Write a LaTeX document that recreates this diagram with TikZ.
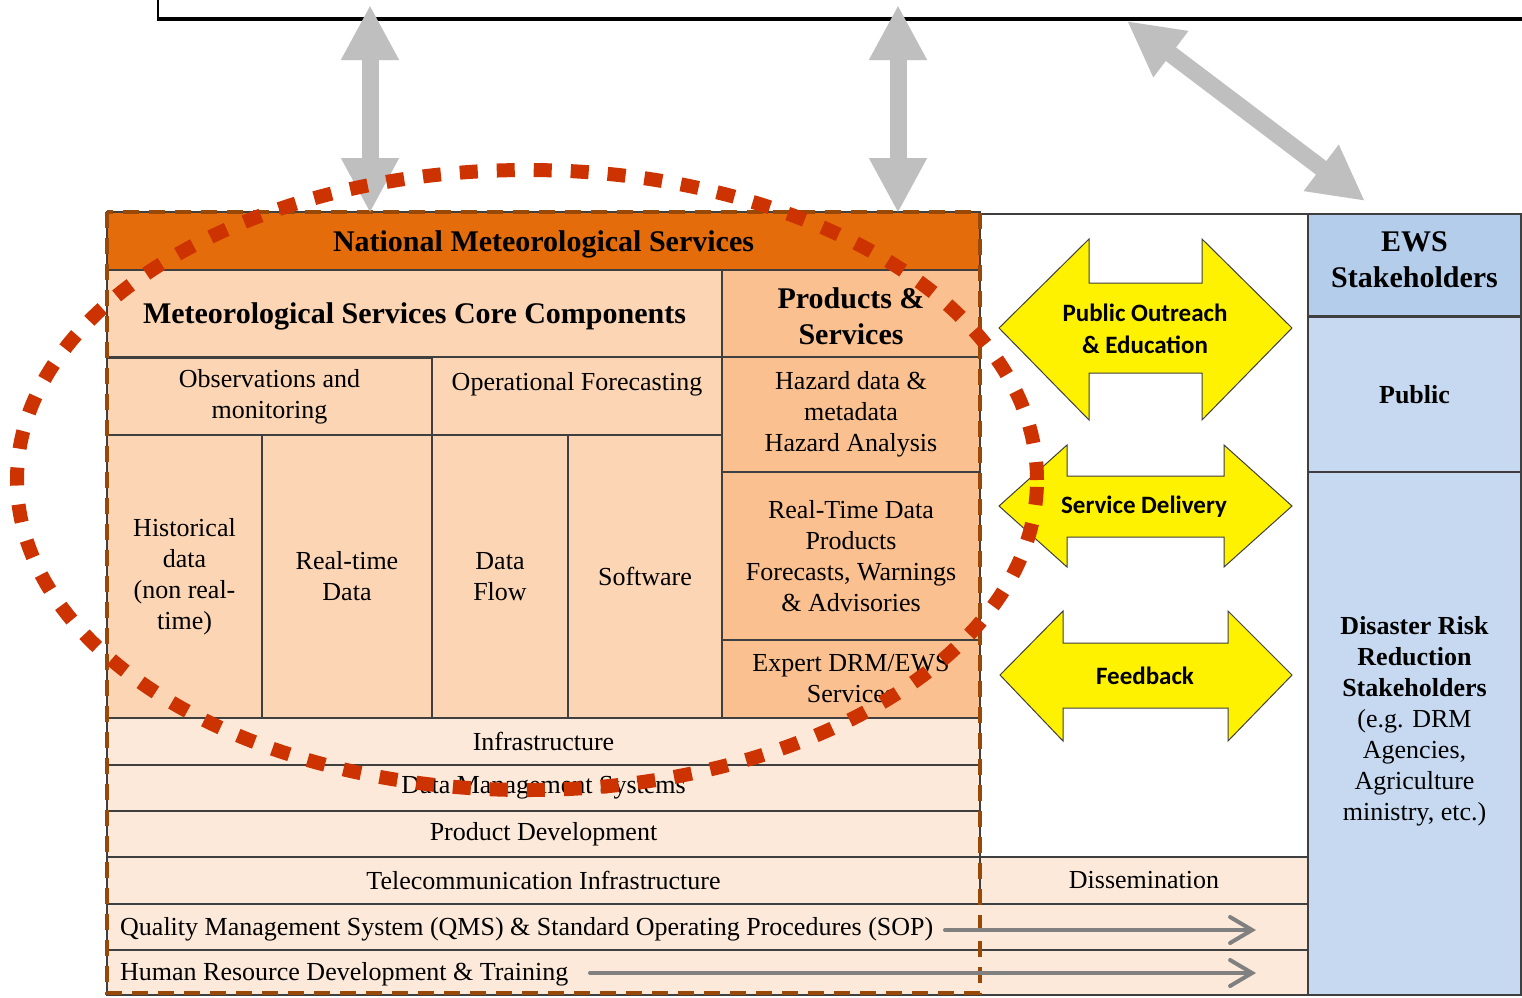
\documentclass[tikz,border=0pt]{standalone}
\usepackage{fontspec}
\setmainfont{Liberation Serif}
\newfontfamily\arrowfont{Carlito}
\usetikzlibrary{arrows.meta}
\definecolor{nmsorange}{HTML}{E46C0A}
\definecolor{corepeach}{HTML}{FCD5B5}
\definecolor{prodpeach}{HTML}{FAC090}
\definecolor{lightpeach}{HTML}{FDE9D9}
\definecolor{ewsblue}{HTML}{B3CDEB}
\definecolor{lightblue}{HTML}{C6D9F1}
\definecolor{dashbrown}{HTML}{984807}
\definecolor{ellred}{HTML}{CC3300}
\definecolor{linkgray}{HTML}{BFBFBF}
\definecolor{flowgray}{HTML}{808080}
\definecolor{cellline}{HTML}{3F3F3F}
\begin{document}
\begin{tikzpicture}[x=1pt,y=-1pt,
  cell/.style={draw=cellline, line width=1.5pt, inner sep=0pt, align=center},
  reg/.style={font=\fontsize{26}{31}\selectfont},
  hdr/.style={font=\bfseries\fontsize{30}{36}\selectfont},
  rbold/.style={font=\bfseries\fontsize{26}{31}\selectfont},
  sanslbl/.style={font=\arrowfont\bfseries\fontsize{25}{32}\selectfont, align=center, inner sep=0pt},
  txt/.style={inner sep=0pt, align=center},
  yarrow/.style={fill=yellow, draw=cellline, line width=1pt},
  linkarrow/.style={draw=linkgray, line width=17pt,
     {Triangle[length=55pt,width=54pt]}-{Triangle[length=55pt,width=54pt]}},
  flowarrow/.style={draw=flowgray, line width=4pt, line cap=round,
     -{Straight Barb[length=22pt,width=26pt,line cap=round]}},
  nmsborder/.style={draw=dashbrown, line width=4pt, dash pattern=on 16pt off 10pt},
  ellipsering/.style={draw=ellred, line width=14pt, dash pattern=on 18pt off 19pt}
]
\useasboundingbox[fill=white] (0,0) rectangle (1522,997);

% top box (cut off)
\draw[line width=2pt] (158,-5) -- (158,19);
\draw[line width=4pt] (157,19) -- (1530,19);

% middle column (white)
\node[cell, fill=white, minimum width=328pt, minimum height=643pt] (midcol) at (1144,535.5) {};

% NMS block
\node[cell, fill=nmsorange, minimum width=873pt, minimum height=58pt] (nms) at (543.5,241) {};
\node[txt, hdr] (nmstext) at (543.5,244) {National Meteorological Services};
\node[cell, fill=corepeach, minimum width=615pt, minimum height=87pt] (core) at (414.5,313.5) {};
\node[txt, hdr] (coretext) at (414.5,316) {Meteorological Services Core Components};
\node[cell, fill=prodpeach, minimum width=258pt, minimum height=87pt] (prod) at (851,313.5) {};
\node[txt, hdr] (prodtext) at (851,316) {Products \&\\Services};
\node[cell, fill=corepeach, reg, minimum width=325pt, minimum height=78pt] (obs) at (269.5,397) {Observations and\\monitoring};
\node[cell, fill=corepeach, minimum width=290pt, minimum height=78pt] (opf) at (577,396) {};
\node[txt, reg] (opftext) at (577,384) {Operational Forecasting};
\node[cell, fill=corepeach, reg, minimum width=155pt, minimum height=283pt] (hist) at (184.5,576.5) {Historical\\data\\(non real-\\time)};
\node[cell, fill=corepeach, reg, minimum width=170pt, minimum height=283pt] (rtd) at (347,576.5) {Real-time\\Data};
\node[cell, fill=corepeach, reg, minimum width=136pt, minimum height=283pt] (dflow) at (500,576.5) {Data\\Flow};
\node[cell, fill=corepeach, reg, minimum width=154pt, minimum height=283pt] (soft) at (645,576.5) {Software};
\node[cell, fill=prodpeach, reg, minimum width=258pt, minimum height=115pt] (haz) at (851,414.5) {Hazard data \&\\metadata\\Hazard Analysis};
\node[cell, fill=prodpeach, reg, minimum width=258pt, minimum height=168pt] (rtp) at (851,556) {Real-Time Data\\Products\\Forecasts, Warnings\\\& Advisories};
\node[cell, fill=prodpeach, reg, minimum width=258pt, minimum height=78pt] (expert) at (851,679) {Expert DRM/EWS\\Services};

\node[cell, fill=lightpeach, reg, minimum width=873pt, minimum height=47pt] (infra) at (543.5,741.5) {Infrastructure};
\node[cell, fill=lightpeach, reg, minimum width=873pt, minimum height=46pt] (dms) at (543.5,788) {Data Management Systems};
\node[cell, fill=lightpeach, reg, minimum width=873pt, minimum height=46pt] (pdev) at (543.5,834) {Product Development};
\node[cell, fill=lightpeach, reg, minimum width=873pt, minimum height=47pt] (tele) at (543.5,880.5) {Telecommunication Infrastructure};
\node[cell, fill=lightpeach, reg, minimum width=328pt, minimum height=47pt] (diss) at (1144,880.5) {Dissemination};
\node[cell, fill=lightpeach, minimum width=1201pt, minimum height=46pt] (qms) at (707.5,927) {};
\node[cell, fill=lightpeach, minimum width=1201pt, minimum height=45pt] (hrd) at (707.5,972.5) {};
\node[txt, reg, anchor=west] (qmstext) at (120,929) {Quality Management System (QMS) \& Standard Operating Procedures (SOP)};
\node[txt, reg, anchor=west] (hrdtext) at (120,974) {Human Resource Development \& Training};

% right column
\node[cell, fill=ewsblue, minimum width=213pt, minimum height=102pt] (ews) at (1414.5,265) {};
\node[txt, hdr, align=center] (ewstext) at (1414.5,259.5) {EWS\\Stakeholders};
\node[cell, fill=lightblue, rbold, minimum width=213pt, minimum height=156pt] (public) at (1414.5,395) {Public};
\node[cell, fill=lightblue, minimum width=213pt, minimum height=523pt] (drr) at (1414.5,733.5) {};
\node[txt, rbold] (drrtext) at (1414.5,721) {Disaster Risk\\Reduction\\Stakeholders\\\mdseries(e.g. DRM\\\mdseries Agencies,\\\mdseries Agriculture\\\mdseries ministry, etc.)};

% dashed NMS border
\draw[nmsborder] (107,212) rectangle (980,993);

% flow arrows
\coordinate (qmsstart) at (945,930);
\coordinate (qmsend) at (1256,930);
\coordinate (hrdstart) at (590,973);
\coordinate (hrdend) at (1256,973);
\draw[flowarrow] (qmsstart) -- (qmsend);
\draw[flowarrow] (hrdstart) -- (hrdend);

% yellow double arrows
\draw[yarrow] (999,328) -- (1089,239) -- (1089,283) -- (1202,283) -- (1202,239) -- (1292,328)
  -- (1202,420) -- (1202,373) -- (1089,373) -- (1089,420) -- cycle;
\node[sanslbl] (outreach) at (1145,329) {Public Outreach\\\& Education};
\draw[yarrow] (999,506) -- (1067,445) -- (1067,476) -- (1224,476) -- (1224,445) -- (1292,506)
  -- (1224,567) -- (1224,537) -- (1067,537) -- (1067,567) -- cycle;
\node[sanslbl] (delivery) at (1144,507) {Service Delivery};
\draw[yarrow] (1000,675) -- (1063,611) -- (1063,643) -- (1228,643) -- (1228,611) -- (1292,675)
  -- (1228,741) -- (1228,708) -- (1063,708) -- (1063,741) -- cycle;
\node[sanslbl] (feedback) at (1145,676) {Feedback};

% gray link arrows
\coordinate (la1top) at (370,5);
\coordinate (la1bot) at (370,213);
\coordinate (la2top) at (898,5);
\coordinate (la2bot) at (898,213);
\coordinate (la3top) at (1127,21);
\coordinate (la3bot) at (1365,201);
\draw[linkarrow] (la1top) -- (la1bot);
\draw[linkarrow] (la2top) -- (la2bot);
\draw[linkarrow] (la3top) -- (la3bot);

% dotted red ellipse
\draw[ellipsering] (527,480) ellipse [x radius=510pt, y radius=310pt];
\end{tikzpicture}
\end{document}
